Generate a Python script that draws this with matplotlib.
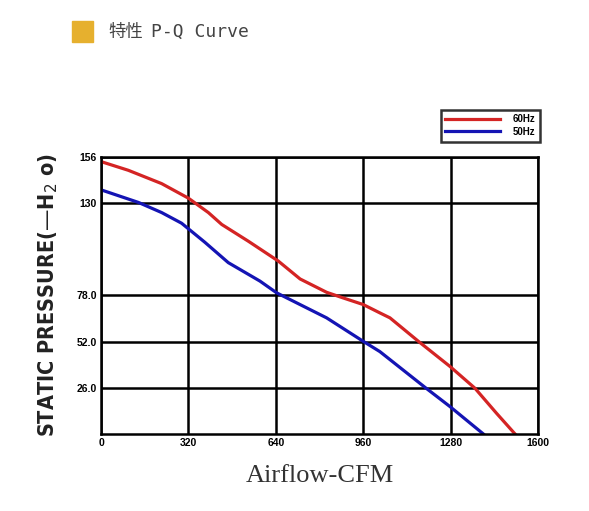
import matplotlib.pyplot as plt

# values
airflow_60 = [0, 100, 222, 320, 393, 442, 540, 649, 729, 826, 887, 960, 1021, 1058, 1162,
              1278, 1369, 1448, 1516]
pressure_60 = [153.4, 148.5, 141.0, 132.8, 124.7, 118.0, 108.5, 97.4, 87.3, 79.8, 76.6, 72.9,
               68.2, 65.4, 52.2, 38.0, 25.8, 11.7, 0]
airflow_50 = [0, 137, 222, 295, 380, 466, 582, 643, 826, 960, 1021, 1186, 1278, 1400]
pressure_50 = [137.5, 130.4, 124.7, 118.7, 108.0, 96.5, 86.1, 79.5, 65.4, 52.2, 46.4, 26.3,
               15.4, 0]

x_ticks = [0, 320, 640, 960, 1280, 1600]
y_ticks = [26, 52, 78, 130, 156]
y_tick_labels = ['26.0', '52.0', '78.0', '130', '156']

fig = plt.figure(figsize=(5.89, 5.11), dpi=100)
ax = fig.add_axes([0.1715, 0.1507, 0.7419, 0.5421])

# title with coloured square
fig.patches.append(plt.Rectangle((72 / 589, 1 - 42 / 511), 21 / 589, 21 / 511,
                                 transform=fig.transFigure, color='#E6B02E'))
fig.text(108 / 589, 1 - 32 / 511, '特性', fontsize=12.5, color='#444444',
         va='center', ha='left', family='Noto Sans CJK SC')
fig.text(151 / 589, 1 - 32 / 511, 'P-Q Curve', fontsize=13, color='#444444',
         va='center', ha='left', family='DejaVu Sans Mono')

ax.plot(airflow_60, pressure_60, color='#D42424', lw=2.3, label='60Hz')
ax.plot(airflow_50, pressure_50, color='#1414B4', lw=2.3, label='50Hz')

ax.set_xlim(0, 1600)
ax.set_ylim(0, 156)
ax.set_xticks(x_ticks)
ax.set_xticklabels([str(v) for v in x_ticks], fontsize=7.5, fontweight='bold',
                   family='Liberation Sans')
ax.set_yticks(y_ticks)
ax.set_yticklabels(y_tick_labels, fontsize=7.5, fontweight='bold', family='Liberation Sans')
ax.tick_params(length=0, pad=3)
ax.grid(True, color='black', lw=1.8)
for s in ax.spines.values():
    s.set_linewidth(1.8)

ax.set_xlabel('Airflow-CFM', fontsize=19, family='Liberation Serif', color='#333333',
              labelpad=12)
ax.set_ylabel('STATIC PRESSURE(—H$_2$ o)', fontsize=15.5, fontstretch='condensed',
              fontweight='bold', family='DejaVu Sans', color='#222222', labelpad=12)

leg = ax.legend(loc='lower right', bbox_to_anchor=(1.005, 1.055),
                prop={'weight': 'bold', 'size': 7, 'family': 'Liberation Sans'},
                frameon=True, fancybox=False, handlelength=5.6, borderpad=0.5,
                labelspacing=0.25, handletextpad=1.3, borderaxespad=0)
leg.get_frame().set_edgecolor('black')
leg.get_frame().set_linewidth(1.8)

fig.savefig('out.png', dpi=100)
